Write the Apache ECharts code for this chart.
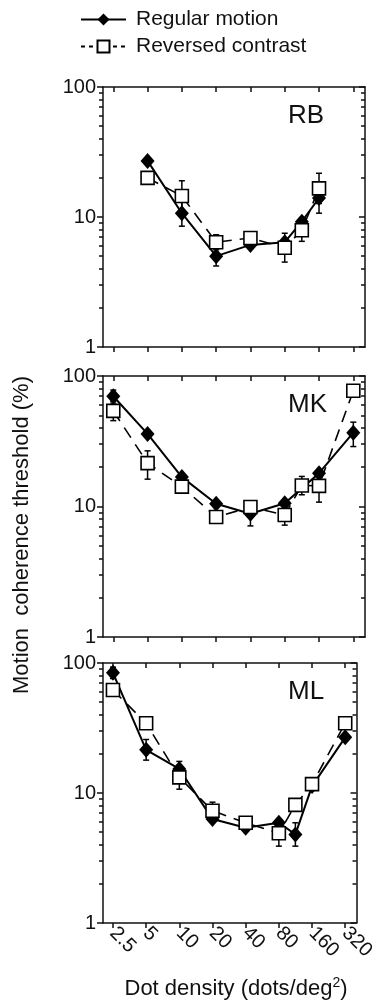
<!DOCTYPE html>
<html><head><meta charset="utf-8">
<script src="https://cdn.jsdelivr.net/npm/echarts@6/dist/echarts.min.js"></script>
<style>html,body{margin:0;padding:0;background:#fff}#c{width:378px;height:1002px}</style>
</head><body><div id="c"></div>
<script>
// ---- data ----
const densities = [2.5, 5, 10, 20, 40, 80, 113, 160, 320];
const tickDensities = [2.5, 5, 10, 20, 40, 80, 160, 320];
const tickLabels = ['2.5', '5', '10', '20', '40', '80', '160', '320'];
const yMinorTicks = [2, 3, 4, 5, 6, 7, 8, 9, 20, 30, 40, 50, 60, 70, 80, 90];
const panelNames = ['RB', 'MK', 'ML'];
const seriesNames = ['Regular motion', 'Reversed contrast'];

const rbRegular  = [null, 27, 10.7, 5.0, 6.1, 6.4, 9.2, 14, null];
const rbReversed = [null, 20, 14.5, 6.4, 6.9, 5.8, 7.9, 16.6, null];
const mkRegular  = [70, 36, 16.8, 10.5, 8.8, 10.6, null, 18, 36.8];
const mkReversed = [54, 21.5, 14.2, 8.3, 9.9, 8.6, 14.5, 14.4, 77];
const mlRegular  = [84, 21.5, 15.3, 6.3, 5.4, 5.9, 4.8, 11.3, 26.8];
const mlReversed = [62, 34.4, 13.2, 7.3, 5.9, 4.9, 8.1, 11.7, 34.4];

// error bars: [low, high] per density (null = none visible)
const rbRegularErr  = [null, null, [8.5, 13.4], [4.2, 6.0], null, null, null, [10.7, 18.5], null];
const rbReversedErr = [null, null, [11.1, 19.0], [5.6, 7.3], null, [4.5, 7.5], [6.5, 9.6], [12.7, 21.7], null];
const mkRegularErr  = [[62, 78], null, null, null, [7.1, 10.9], null, null, null, [28.8, 44.3]];
const mkReversedErr = [[45.5, 64], [16.2, 26.7], null, null, null, [7.2, 10.3], [12.3, 17], [10.8, 19], null];
const mlRegularErr  = [[76, 93], [17.9, 25.8], [13, 17.5], null, null, null, [3.9, 5.9], null, null];
const mlReversedErr = [null, null, [10.7, 16.3], [6.3, 8.5], null, [3.9, 6.1], null, null, null];

const panels = [
  [rbRegular, rbReversed, rbRegularErr, rbReversedErr],
  [mkRegular, mkReversed, mkRegularErr, mkReversedErr],
  [mlRegular, mlReversed, mlRegularErr, mlReversedErr]
];

// ---- layout ----
const FONT = 'Liberation Sans, Arial, Helvetica, sans-serif';
const gridTops = [87, 376, 663];
const gridHeights = [260, 261, 260];
const gridLeft = 103, gridRight = 13;
const xMin = 2.5 * Math.pow(2, -0.30);
const xMax = 320 * Math.pow(2, 0.341);

function pairs(vals) {
  const out = [];
  vals.forEach((v, i) => { if (v != null) out.push([densities[i], v]); });
  return out;
}
function errPairs(errs) {
  const out = [];
  errs.forEach((e, i) => { if (e) out.push([densities[i], e[0], e[1]]); });
  return out;
}
function renderErr(params, api) {
  const x = api.value(0), lo = api.value(1), hi = api.value(2);
  const p1 = api.coord([x, lo]), p2 = api.coord([x, hi]);
  const w = 3;
  const style = { stroke: '#000', lineWidth: 1.5, fill: null };
  return { type: 'group', children: [
    { type: 'line', shape: { x1: p1[0], y1: p1[1], x2: p2[0], y2: p2[1] }, style },
    { type: 'line', shape: { x1: p1[0] - w, y1: p1[1], x2: p1[0] + w, y2: p1[1] }, style },
    { type: 'line', shape: { x1: p2[0] - w, y1: p2[1], x2: p2[0] + w, y2: p2[1] }, style }
  ]};
}

const grid = [], xAxis = [], yAxis = [], series = [], graphic = [];
const lineCol = '#111';
const tickStyle = { color: lineCol, width: 1.5 };

panels.forEach((p, i) => {
  grid.push({ left: gridLeft, right: gridRight, top: gridTops[i], height: gridHeights[i] });
  const xBase = { type: 'log', logBase: 2, min: xMin, max: xMax, gridIndex: i,
    splitLine: { show: false },
    axisLine: { show: true, lineStyle: { color: lineCol, width: 1.5 } } };
  xAxis.push(Object.assign({}, xBase, { position: 'bottom',
    axisTick: { show: true, inside: false, length: 5, customValues: tickDensities, lineStyle: tickStyle },
    axisLabel: { show: i === 2, customValues: tickDensities, rotate: -45, margin: 7,
      fontSize: 20, fontFamily: FONT, color: '#111',
      formatter: v => tickLabels[tickDensities.indexOf(+v)] ?? String(v) } }));
  xAxis.push(Object.assign({}, xBase, { position: 'top',
    axisTick: { show: true, inside: true, length: 5, customValues: tickDensities, lineStyle: tickStyle },
    axisLabel: { show: false } }));
  const yBase = { type: 'log', logBase: 10, min: 1, max: 100, gridIndex: i, splitLine: { show: false } };
  yAxis.push(Object.assign({}, yBase, { position: 'left',
    axisLine: { show: true, lineStyle: { color: lineCol, width: 1.5 } },
    axisTick: { show: true, inside: false, length: 6, lineStyle: tickStyle },
    axisLabel: { show: true, margin: 7, fontSize: 20, fontFamily: FONT, color: '#111' } }));
  yAxis.push(Object.assign({}, yBase, { position: 'left',
    axisLine: { show: false },
    axisTick: { show: true, inside: false, length: 4, customValues: yMinorTicks, lineStyle: tickStyle },
    axisLabel: { show: false } }));
  yAxis.push(Object.assign({}, yBase, { position: 'right',
    axisLine: { show: true, lineStyle: { color: lineCol, width: 1.5 } },
    axisTick: { show: true, inside: true, length: 6, lineStyle: tickStyle },
    axisLabel: { show: false } }));
  yAxis.push(Object.assign({}, yBase, { position: 'right',
    axisLine: { show: false },
    axisTick: { show: true, inside: true, length: 4, customValues: yMinorTicks, lineStyle: tickStyle },
    axisLabel: { show: false } }));

  const xi = 2 * i, yi = 4 * i;
  series.push({ type: 'custom', name: 'errR' + i, xAxisIndex: xi, yAxisIndex: yi, z: 1,
    renderItem: renderErr, encode: { x: 0, y: [1, 2] }, data: errPairs(p[2]), silent: true });
  series.push({ type: 'custom', name: 'errV' + i, xAxisIndex: xi, yAxisIndex: yi, z: 1,
    renderItem: renderErr, encode: { x: 0, y: [1, 2] }, data: errPairs(p[3]), silent: true });
  series.push({ type: 'line', name: seriesNames[0], xAxisIndex: xi, yAxisIndex: yi, z: 3,
    symbol: 'diamond', symbolSize: [14, 16],
    itemStyle: { color: '#000' }, lineStyle: { color: '#000', width: 2 },
    data: pairs(p[0]), animation: false });
  series.push({ type: 'line', name: seriesNames[1], xAxisIndex: xi, yAxisIndex: yi, z: 4,
    symbol: 'rect', symbolSize: 13,
    itemStyle: { color: '#fff', borderColor: '#000', borderWidth: 1.6 },
    lineStyle: { color: '#000', width: 1.6, type: [12, 8] },
    data: pairs(p[1]), animation: false });

  graphic.push({ type: 'text', left: 288, top: gridTops[i] + 16,
    style: { text: panelNames[i], fontSize: 26, fontFamily: FONT, fill: '#111' } });
});

graphic.push({ type: 'text', x: 22, y: 535, rotation: Math.PI / 2,
  style: { text: 'Motion  coherence threshold (%)', fontSize: 22, fontFamily: FONT, fill: '#111',
    align: 'center', verticalAlign: 'middle' } });
graphic.push({ type: 'text', x: 236, y: 989,
  style: { text: '{a|Dot density (dots/deg}{s|2}{a|)}', align: 'center', verticalAlign: 'middle',
    rich: { a: { fontSize: 22, fontFamily: FONT, fill: '#111', lineHeight: 26 },
            s: { fontSize: 14, fontFamily: FONT, fill: '#111', lineHeight: 26, padding: [0, 0, 11, 0] } } } });

const chart = echarts.init(document.getElementById('c'), null, { renderer: 'canvas' });
chart.setOption({
  animation: false,
  backgroundColor: '#fff',
  legend: { data: [
      { name: seriesNames[0] },
      { name: seriesNames[1], lineStyle: { type: [4, 4] } }
    ], orient: 'vertical', left: 80, top: 9, padding: 0, itemWidth: 45, itemHeight: 15,
    itemGap: 6, textStyle: { fontSize: 21, fontFamily: FONT, color: '#111', padding: [0, 0, 0, 5] } },
  grid, xAxis, yAxis, series, graphic
});
</script></body></html>
